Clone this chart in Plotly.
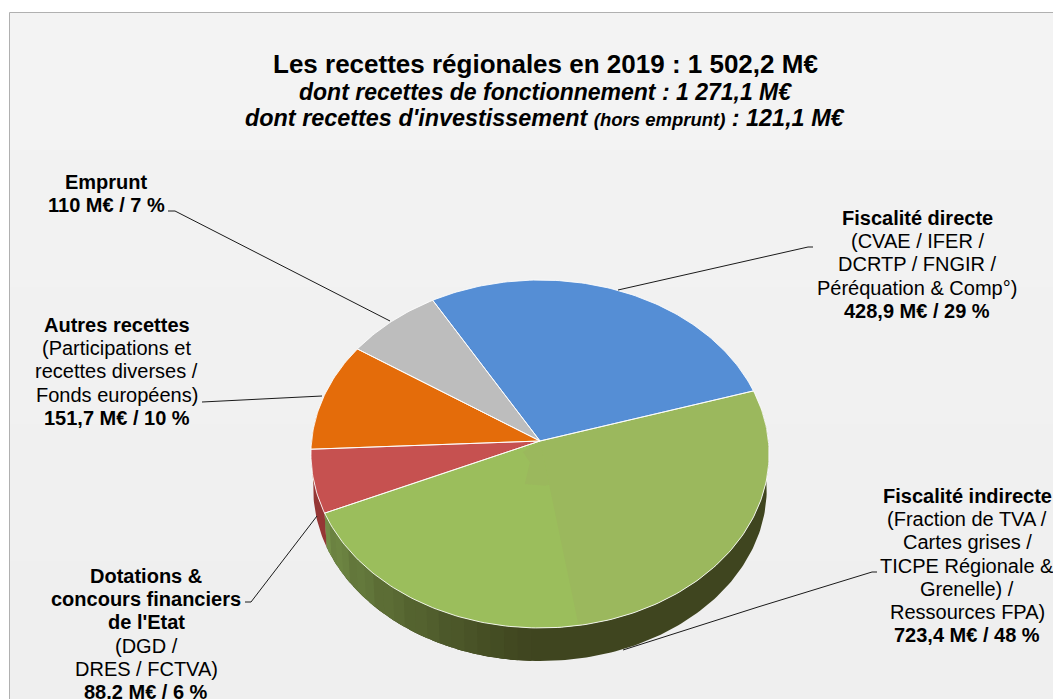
import math
import plotly.graph_objects as go

# ---- data ----
categories = ["Fiscalité directe", "Fiscalité indirecte", "Dotations & concours financiers de l'Etat",
              "Autres recettes", "Emprunt"]
values = [428.9, 723.4, 88.2, 151.7, 110.0]
value_labels = ["428,9 M€ / 29 %", "723,4 M€ / 48 %", "88,2 M€ / 6 %", "151,7 M€ / 10 %", "110 M€ / 7 %"]
head_lines = [["Fiscalité directe"], ["Fiscalité indirecte"],
              ["Dotations &", "concours financiers", "de l'Etat"], ["Autres recettes"], ["Emprunt"]]
detail_lines = [["(CVAE / IFER /", "DCRTP / FNGIR /", "Péréquation & Comp°)"],
                ["(Fraction de TVA /", "Cartes grises /", "TICPE Régionale &", "Grenelle) /", "Ressources FPA)"],
                ["(DGD /", "DRES / FCTVA)"],
                ["(Participations et", "recettes diverses /", "Fonds européens)"],
                []]
title_main = "Les recettes régionales en 2019 : 1 502,2 M€"
title_func = "dont recettes de fonctionnement : 1 271,1 M€"
title_inv_a = "dont recettes d'investissement "
title_inv_b = "(hors emprunt)"
title_inv_c = " : 121,1 M€"

# ---- style ----
top_colors = ["#558ed5", "#9bb85d", "#c65150", "#e46c0a", "#bdbdbd"]
wall_colors = ["#3f451f", "#3f451f", "#953735", "#b85608", "#999999"]
GREEN_LIGHT = "#9bbe5c"
START_DEG = -30.0
SEAM_DEG = 171.0
NOTCH_R = [0.0, 0.098, 0.129, 0.252, 0.255]
NOTCH_DEG = [0.0, 229.5, 199.9, 195.0, 175.0]
CX, CY, A, B, K = 540.0, 441.0, 173.0, 228.4, 0.0747
DEPTH, WALL_SCALE = 35.0, 0.99


def project(theta_deg, r=1.0, depth=0.0, scale=1.0):
    """Clockwise angle from 12 o'clock -> position on the tilted disc."""
    t = math.radians(theta_deg)
    s, c = r * math.cos(t), r * math.sin(t)
    d = 1 + K * s
    return CX + scale * B * c / d, CY + depth - scale * A * s / d


def arc(a0, a1, step=1.0, **kw):
    n = max(2, int(abs(a1 - a0) / step) + 1)
    return [project(a0 + (a1 - a0) * i / (n - 1), **kw) for i in range(n)]


def mix(c0, c1, f):
    a = [int(c0[i:i + 2], 16) for i in (1, 3, 5)]
    b = [int(c1[i:i + 2], 16) for i in (1, 3, 5)]
    return "#%02x%02x%02x" % tuple(round(x + (y - x) * f) for x, y in zip(a, b))


total = sum(values)
edges = [START_DEG]
for v in values:
    edges.append(edges[-1] + v / total * 360.0)

fig = go.Figure()


def poly(pts, fill, name, line=None, width=0.0, filled=True):
    fig.add_trace(go.Scatter(
        x=[p[0] for p in pts], y=[p[1] for p in pts], mode="lines",
        fill="toself" if filled else "none", fillcolor=fill if filled else None,
        line=dict(color=line or fill or "#fff", width=width), name=name, hoverinfo="name",
        showlegend=False))


# outer walls, front half only: one solid band per slice, then the lit part of the green one
for i, name in enumerate(categories):
    lo, hi = max(edges[i], 80), min(edges[i + 1], 280)
    if hi <= lo:
        continue
    pts = arc(lo, hi) + arc(hi, lo, depth=DEPTH, scale=WALL_SCALE)
    poly(pts + pts[:1], wall_colors[i], name)
lo, hi = 182.0, edges[2]
n = 20
for j in range(n):
    s0 = lo + (hi - lo) * j / n
    s1 = edges[2] if j == n - 1 else lo + (hi - lo) * (j + 1.6) / n
    f = (j + 0.5) / n
    col = mix("#3f451f", "#748f48", f ** 1.1)
    if j % 3 == 0:
        col = mix(col, "#3f451f", 0.10)
    pts = arc(s0, s1) + arc(s1, s0, depth=DEPTH, scale=WALL_SCALE)
    poly(pts + pts[:1], col, categories[1])

# top faces
for i, name in enumerate(categories):
    pts = [project(0, r=0)] + arc(edges[i], edges[i + 1]) + [project(0, r=0)]
    poly(pts, top_colors[i], name)
# lighter part of the green slice, and the small darker notch near the centre
pts = [project(0, r=0)] + arc(SEAM_DEG, edges[2]) + [project(0, r=0)]
poly(pts, GREEN_LIGHT, categories[1])
pts = [project(d, r=r) for r, d in zip(NOTCH_R, NOTCH_DEG)] + [project(SEAM_DEG, r=0.25), project(0, r=0)]
poly(pts, top_colors[1], categories[1])
# slice outlines
for i, name in enumerate(categories):
    pts = [project(0, r=0)] + arc(edges[i], edges[i + 1]) + [project(0, r=0)]
    poly(pts, None, name, line="rgba(255,255,255,0.85)", width=1.0, filled=False)

# leader lines
leaders = [
    ([618, 808, 813], [290, 247, 247]),
    ([623, 740, 758, 872, 877], [650, 613, 607, 572, 572]),
    ([317, 251, 245], [516, 602, 602]),
    ([322, 202], [396, 402]),
    ([390, 175, 168], [321, 211, 211]),
]
for (lx, ly), name in zip(leaders, categories):
    fig.add_trace(go.Scatter(x=lx, y=ly, mode="lines", line=dict(color="#1a1a1a", width=1),
                             hoverinfo="skip", showlegend=False, name=name))

# labels: one annotation per row so the row pitch stays tight
FONT = "Liberation Sans, Arial, sans-serif"
label_pos = [(917, 218), (967, 496), (146, 576), (116.5, 325), (106, 182)]
ROW = 23.2
anns = []
for head, detail, val, (x, y) in zip(head_lines, detail_lines, value_labels, label_pos):
    rows = ["<b>%s</b>" % h for h in head] + detail + ["<b>%s</b>" % val]
    for k, row in enumerate(rows):
        anns.append(dict(x=x, y=y + k * ROW, xref="x", yref="y", text=row, showarrow=False,
                         xanchor="center", yanchor="middle", align="center",
                         font=dict(family=FONT, size=20, color="#000")))
for txt, y, size in [("<b>%s</b>" % title_main, 64, 26),
                     ("<b><i>%s</i></b>" % title_func, 91.5, 23),
                     ("<b><i>%s<span style=\"font-size:18.5px\">%s</span>%s</i></b>"
                      % (title_inv_a, title_inv_b, title_inv_c), 118, 23.4)]:
    anns.append(dict(x=545, y=y, xref="x", yref="y", text=txt, showarrow=False, xanchor="center",
                     yanchor="middle", font=dict(family=FONT, size=size, color="#000")))

# panel
shapes = [dict(type="rect", xref="x", yref="y", x0=9.5, x1=1060, y0=12.5, y1=710,
               line=dict(color="#b0b0b0", width=1), fillcolor="#f0f0f0", layer="below")]
bands = ["#f3f3f3", "#f2f2f2", "#f1f1f1", "#f0f0f0", "#efefef"]
for i, c in enumerate(bands):
    shapes.append(dict(type="rect", xref="x", yref="y", x0=10, x1=1060,
                       y0=13 + i * 137, y1=13 + (i + 1) * 137 + 1,
                       line=dict(width=0), fillcolor=c, layer="below"))

fig.update_layout(
    width=1053, height=699, margin=dict(l=0, r=0, t=0, b=0), autosize=False,
    paper_bgcolor="#ffffff", plot_bgcolor="#ffffff", showlegend=False,
    xaxis=dict(range=[0, 1053], visible=False, fixedrange=True),
    yaxis=dict(range=[699, 0], visible=False, fixedrange=True),
    annotations=anns, shapes=shapes,
)
fig.write_html("out.html", config={"displayModeBar": False},
               post_script="document.body.style.margin='0';document.body.style.overflow='hidden';")
